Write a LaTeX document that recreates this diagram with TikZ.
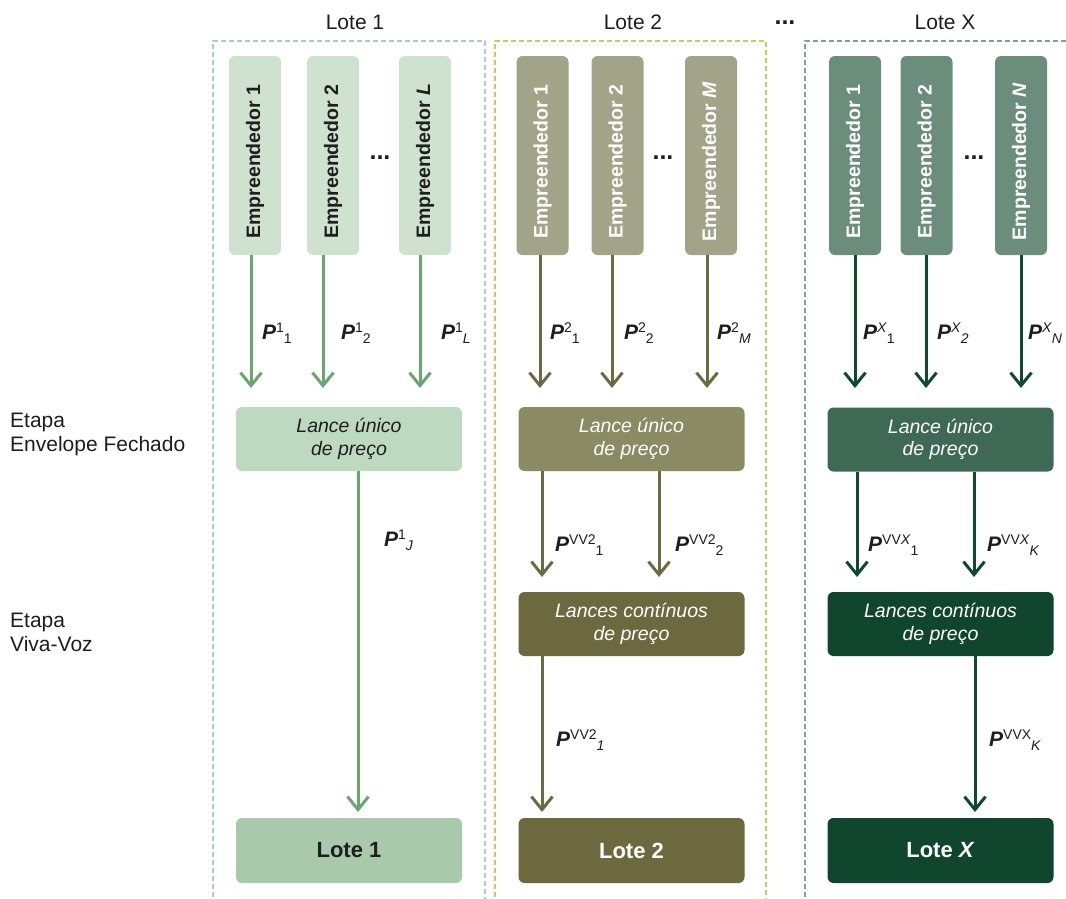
\documentclass[tikz,border=0pt]{standalone}
\usepackage{fontspec}
\setmainfont{Liberation Sans}
\usetikzlibrary{arrows.meta}
\definecolor{gAe}{HTML}{CFE2D0}
\definecolor{gAm}{HTML}{BDD9C0}
\definecolor{gAr}{HTML}{A9CAAA}
\definecolor{gAl}{HTML}{6AA66E}
\definecolor{gAf}{HTML}{A9CEC6}
\definecolor{oBe}{HTML}{A3A487}
\definecolor{oBm}{HTML}{8A8A63}
\definecolor{oBr}{HTML}{6B693D}
\definecolor{oBl}{HTML}{6B6A40}
\definecolor{oBf}{HTML}{C9CA62}
\definecolor{dCe}{HTML}{6B8E7C}
\definecolor{dCm}{HTML}{3E6A55}
\definecolor{dCr}{HTML}{10452E}
\definecolor{dCl}{HTML}{0F4A30}
\definecolor{dCf}{HTML}{7BAA7B}
\definecolor{txt}{HTML}{1E1E1E}
\newcommand{\pl}[2]{{\bfseries\itshape P}\raisebox{7pt}{\fontsize{14}{14}\selectfont #1}\raisebox{-4pt}{\fontsize{14}{14}\selectfont #2}}
\newcommand{\emptext}[1]{\rotatebox{90}{#1\hspace*{12pt}}}
\begin{document}
\begin{tikzpicture}[x=1pt,y=-1pt,
  empbox/.style={rounded corners=6pt, minimum width=52pt, minimum height=199pt, inner sep=0pt, font=\fontsize{19.5}{19.5}\selectfont\bfseries},
  widebox/.style={rounded corners=6pt, minimum width=226pt, minimum height=64pt, inner sep=0pt, align=center, font=\fontsize{19.5}{22.5}\selectfont\itshape},
  resbox/.style={rounded corners=6pt, minimum width=226pt, minimum height=65pt, inner sep=0pt, font=\fontsize{22}{22}\selectfont\bfseries},
  arr/.style={line width=3pt, -{Straight Barb[length=13pt,width=21pt]}},
  frame/.style={line width=1.2pt, dash pattern=on 5pt off 3pt},
  plbl/.style={anchor=west, inner sep=0pt, font=\fontsize{21}{21}\selectfont, text=txt},
  title/.style={font=\fontsize{21}{21}\selectfont, text=txt, inner sep=0pt},
  dots/.style={anchor=base, font=\fontsize{25}{25}\selectfont\bfseries, text=txt, inner sep=0pt},
  stage/.style={anchor=north west, align=left, inner sep=0pt, font=\fontsize{21}{24}\selectfont, text=txt}]
\useasboundingbox (0,0) rectangle (1066,898);
\fill[white] (0,0) rectangle (1066,898);

% frames
\draw[frame, gAf] (213,905) -- (213,41) -- (485,41) -- (485,905);
\draw[frame, oBf] (495,905) -- (495,41) -- (766,41) -- (766,905);
\draw[frame, dCf] (805,905) -- (805,41) -- (1075,41);

% titles
\node[title] (t1) at (355,22) {Lote 1};
\node[title] (t2) at (633,22) {Lote 2};
\node[title] (tx) at (945,22) {Lote X};
\node[dots] (td) at (785,24) {...};

% stages
\node[stage] (s1) at (10,413) {Etapa\\Envelope Fechado};
\node[stage] (s2) at (10,613) {Etapa\\Viva-Voz};

% Lote 1
\node[empbox, fill=gAe, text=txt] (e11) at (255,155.5) {\emptext{Empreendedor 1}};
\node[empbox, fill=gAe, text=txt] (e12) at (333,155.5) {\emptext{Empreendedor 2}};
\node[empbox, fill=gAe, text=txt] (e1L) at (425,155.5) {\emptext{Empreendedor \textit{L}}};
\node[dots] (d1) at (380,159) {...};
\node[widebox, fill=gAm, text=txt] (m1) at (349,439) {Lance único\\de preço};
\node[resbox, fill=gAr, text=txt] (r1) at (349,850.5) {Lote 1};
\coordinate (a11) at (251,388);
\coordinate (a12) at (323,388);
\coordinate (a1L) at (420,388);
\coordinate (a1J) at (358,812);
\draw[arr, gAl] (e11.south -| a11) -- (a11);
\draw[arr, gAl] (e12.south -| a12) -- (a12);
\draw[arr, gAl] (e1L.south -| a1L) -- (a1L);
\draw[arr, gAl] (m1.south -| a1J) -- (a1J);
\node[plbl] (l11) at (262,333) {\pl{1}{1}};
\node[plbl] (l12) at (341,333) {\pl{1}{2}};
\node[plbl] (l1L) at (441,333) {\pl{1}{\textit{L}}};
\node[plbl] (l1J) at (384,540) {\pl{1}{\textit{J}}};

% Lote 2
\node[empbox, fill=oBe, text=white] (e21) at (542.5,155.5) {\emptext{Empreendedor 1}};
\node[empbox, fill=oBe, text=white] (e22) at (617.5,155.5) {\emptext{Empreendedor 2}};
\node[empbox, fill=oBe, text=white] (e2M) at (711,155.5) {\emptext{Empreendedor \textit{M}}};
\node[dots] (d2) at (663,159) {...};
\node[widebox, fill=oBm, text=white] (m2) at (631.5,439) {Lance único\\de preço};
\node[widebox, fill=oBr, text=white] (c2) at (631.5,624) {Lances contínuos\\de preço};
\node[resbox, fill=oBr, text=white] (r2) at (631.5,850.5) {Lote 2};
\coordinate (a21) at (540,388);
\coordinate (a22) at (612,388);
\coordinate (a2M) at (707,388);
\coordinate (b21) at (542,577);
\coordinate (b22) at (659,577);
\coordinate (c21) at (542,812);
\draw[arr, oBl] (e21.south -| a21) -- (a21);
\draw[arr, oBl] (e22.south -| a22) -- (a22);
\draw[arr, oBl] (e2M.south -| a2M) -- (a2M);
\draw[arr, oBl] (m2.south -| b21) -- (b21);
\draw[arr, oBl] (m2.south -| b22) -- (b22);
\draw[arr, oBl] (c2.south -| c21) -- (c21);
\node[plbl] (l21) at (550,333) {\pl{2}{1}};
\node[plbl] (l22) at (624,333) {\pl{2}{2}};
\node[plbl] (l2M) at (717,333) {\pl{2}{\textit{M}}};
\node[plbl] (v21) at (555,545) {\pl{VV2}{1}};
\node[plbl] (v22) at (675,545) {\pl{VV2}{2}};
\node[plbl] (w21) at (556,740) {\pl{VV2}{\textit{1}}};

% Lote X
\node[empbox, fill=dCe, text=white] (ex1) at (855,155.5) {\emptext{Empreendedor 1}};
\node[empbox, fill=dCe, text=white] (ex2) at (926.5,155.5) {\emptext{Empreendedor 2}};
\node[empbox, fill=dCe, text=white] (exN) at (1021,155.5) {\emptext{Empreendedor \textit{N}}};
\node[dots] (dx) at (974,159) {...};
\node[widebox, fill=dCm, text=white] (mx) at (940.5,439.5) {Lance único\\de preço};
\node[widebox, fill=dCr, text=white] (cx) at (940.5,624) {Lances contínuos\\de preço};
\node[resbox, fill=dCr, text=white] (rx) at (940.5,850.5) {Lote \textit{X}};
\coordinate (ax1) at (855,388);
\coordinate (ax2) at (926,388);
\coordinate (axN) at (1021,388);
\coordinate (bx1) at (857,577);
\coordinate (bxK) at (974,577);
\coordinate (cxK) at (975,812);
\draw[arr, dCl] (ex1.south -| ax1) -- (ax1);
\draw[arr, dCl] (ex2.south -| ax2) -- (ax2);
\draw[arr, dCl] (exN.south -| axN) -- (axN);
\draw[arr, dCl] (mx.south -| bx1) -- (bx1);
\draw[arr, dCl] (mx.south -| bxK) -- (bxK);
\draw[arr, dCl] (cx.south -| cxK) -- (cxK);
\node[plbl] (lx1) at (863,333) {\pl{\textit{X}}{1}};
\node[plbl] (lx2) at (937,333) {\pl{\textit{X}}{\textit{2}}};
\node[plbl] (lxN) at (1028,333) {\pl{\textit{X}}{\textit{N}}};
\node[plbl] (vx1) at (868,545) {\pl{VV\textit{X}}{1}};
\node[plbl] (vxK) at (987,545) {\pl{VV\textit{X}}{\textit{K}}};
\node[plbl] (wxK) at (989,740) {\pl{VVX}{\textit{K}}};
\end{tikzpicture}
\end{document}
